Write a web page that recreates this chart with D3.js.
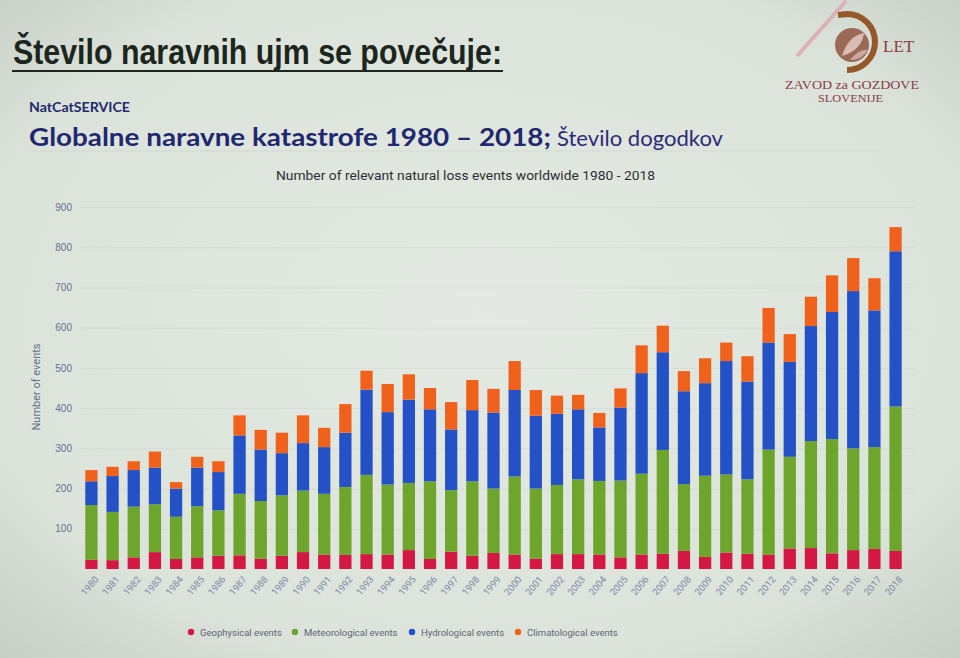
<!DOCTYPE html>
<html><head><meta charset="utf-8">
<script src="https://cdn.jsdelivr.net/npm/d3@7"></script>
<style>
html,body{margin:0;padding:0;background:#dfe5de;}
svg{display:block;}
</style></head>
<body>
<svg id="c" width="960" height="658"></svg>
<script>
const years = ["1980","1981","1982","1983","1984","1985","1986","1987","1988","1989","1990","1991","1992","1993","1994","1995","1996","1997","1998","1999","2000","2001","2002","2003","2004","2005","2006","2007","2008","2009","2010","2011","2012","2013","2014","2015","2016","2017","2018"];
const geophysical    = [23,22,29,42,25,29,33,34,26,33,42,36,35,37,36,47,25,43,33,40,36,26,37,37,36,29,36,38,45,30,41,38,36,51,52,39,47,50,45];
const meteorological = [136,120,126,119,105,127,113,153,143,150,153,151,169,197,174,167,193,153,185,160,194,174,172,186,183,191,201,258,166,202,194,185,261,228,266,284,253,253,359];
const hydrological   = [59,89,91,91,70,96,95,145,128,105,118,116,135,212,180,207,179,151,177,189,215,181,177,174,133,181,250,243,231,230,282,243,266,236,286,316,391,340,386];
const climatological = [28,23,22,40,16,27,27,50,49,51,69,48,71,47,70,63,53,68,75,59,72,64,45,36,36,48,69,66,50,62,46,63,86,69,73,91,82,80,60];
const seriesNames  = ["Geophysical events","Meteorological events","Hydrological events","Climatological events"];
const seriesColors = ["#d41843","#6ea52c","#2451c6","#f0621c"];
const yTicks = [100,200,300,400,500,600,700,800,900];

const svg = d3.select("#c");
const W = 960, H = 658;

// background vignette
const defs = svg.append("defs");
const rg = defs.append("radialGradient").attr("id","bg").attr("cx","50%").attr("cy","48%").attr("r","75%");
rg.append("stop").attr("offset","0%").attr("stop-color","#e4eae3");
rg.append("stop").attr("offset","70%").attr("stop-color","#dce3db");
rg.append("stop").attr("offset","100%").attr("stop-color","#c3cbc2");
svg.append("rect").attr("width",W).attr("height",H).attr("fill","url(#bg)");

// slide title
svg.append("text").attr("x",13).attr("y",64)
  .attr("font-family","'Liberation Sans Narrow','Arial Narrow','Liberation Sans',sans-serif")
  .attr("font-size",35).attr("font-weight","bold").attr("fill","#1c261d")
  .attr("textLength",489).attr("lengthAdjust","spacingAndGlyphs")
  .text("Število naravnih ujm se povečuje:");
svg.append("line").attr("x1",12).attr("x2",503).attr("y1",71).attr("y2",71)
  .attr("stroke","#1c261d").attr("stroke-width",2.2);

// logo
const logo = svg.append("g");
logo.append("path").attr("d","M797,56 L846,1").attr("fill","none").attr("stroke","#dcb0ba").attr("stroke-width",4);
logo.append("path").attr("d","M838,15 L847,14 A28,28 0 1,1 847,70").attr("fill","none").attr("stroke","#94582b").attr("stroke-width",6);
logo.append("circle").attr("cx",852).attr("cy",45).attr("r",17).attr("fill","#9a6a55");
logo.append("path").attr("d","M842,56 Q848,36 864,33 Q862,50 842,56 Z").attr("fill","#e3c9c4").attr("opacity",0.85);
logo.append("path").attr("d","M850,60 Q860,48 868,50 Q862,60 850,60 Z").attr("fill","#d9b6b4").attr("opacity",0.8);
logo.append("text").attr("x",883).attr("y",52).attr("font-family","'Liberation Serif',serif").attr("font-size",17).attr("fill","#883c42").text("LET");
logo.append("text").attr("x",785).attr("y",89).attr("font-family","'Liberation Serif',serif").attr("font-size",12)
  .attr("textLength",134).attr("lengthAdjust","spacingAndGlyphs").attr("fill","#883c48").text("ZAVOD za GOZDOVE");
logo.append("text").attr("x",818).attr("y",102).attr("font-family","'Liberation Serif',serif").attr("font-size",11)
  .attr("textLength",65).attr("lengthAdjust","spacingAndGlyphs").attr("fill","#883c48").text("SLOVENIJE");

// headings
svg.append("text").attr("x",29).attr("y",112).attr("font-family","Lato,'Open Sans','Liberation Sans',sans-serif")
  .attr("font-size",13).attr("font-weight","bold").attr("fill","#1f2a6e")
  .attr("textLength",101).attr("lengthAdjust","spacingAndGlyphs").text("NatCatSERVICE");
svg.append("text").attr("x",29).attr("y",146).attr("font-family","Lato,'Open Sans','Liberation Sans',sans-serif")
  .attr("font-size",24).attr("font-weight","bold").attr("fill","#1f2870")
  .attr("textLength",522).attr("lengthAdjust","spacingAndGlyphs").text("Globalne naravne katastrofe 1980 – 2018;");
svg.append("text").attr("x",557).attr("y",146).attr("font-family","Lato,'Open Sans','Liberation Sans',sans-serif")
  .attr("font-size",22).attr("fill","#2d2a78")
  .attr("textLength",166).attr("lengthAdjust","spacingAndGlyphs").text("Število dogodkov");
svg.append("line").attr("x1",30).attr("x2",880).attr("y1",151).attr("y2",151).attr("stroke","#000").attr("stroke-opacity",0.05);

// chart title
svg.append("text").attr("x",276).attr("y",180)
  .attr("font-family","Roboto,'Liberation Sans',sans-serif").attr("font-size",12).attr("fill","#2b2f33")
  .attr("textLength",379).attr("lengthAdjust","spacingAndGlyphs")
  .text("Number of relevant natural loss events worldwide 1980 - 2018");

// scales
const x = d3.scaleBand().domain(years).range([80,907]).paddingInner(0.42).paddingOuter(0.25);
const y = d3.scaleLinear().domain([0,900]).range([569,207]);

// grid
const grid = svg.append("g").attr("transform","translate(80,0)")
  .call(d3.axisLeft(y).tickValues(yTicks).tickSize(-835).tickFormat(""));
grid.select(".domain").remove();
grid.selectAll("line").attr("stroke","#000").attr("stroke-opacity",0.045);

// y axis labels
const ya = svg.append("g").attr("transform","translate(80,0)")
  .call(d3.axisLeft(y).tickValues(yTicks).tickSize(0).tickPadding(8).tickFormat(d3.format("d")));
ya.select(".domain").remove();
ya.selectAll("text").attr("font-family","'Liberation Sans',sans-serif").attr("font-size",10).attr("fill","#66728c");

svg.append("text").attr("transform","translate(40,387) rotate(-90)").attr("text-anchor","middle")
  .attr("font-family","Roboto,'Liberation Sans',sans-serif").attr("font-size",11).attr("fill","#66728c").text("Number of events");

// stacked bars
const table = years.map((yr,i)=>({year:yr, g:geophysical[i], m:meteorological[i], h:hydrological[i], c:climatological[i]}));
const stack = d3.stack().keys(["g","m","h","c"])(table);
svg.append("g").selectAll("g").data(stack).join("g")
  .attr("fill",(d,i)=>seriesColors[i])
  .selectAll("rect").data(d=>d).join("rect")
  .attr("x",d=>x(d.data.year)).attr("width",x.bandwidth())
  .attr("y",d=>y(d[1])).attr("height",d=>y(d[0])-y(d[1]));

// x axis labels
const xa = svg.append("g").attr("transform","translate(0,572)")
  .call(d3.axisBottom(x).tickSize(0).tickPadding(6));
xa.select(".domain").remove();
xa.selectAll("text").attr("font-family","Roboto,'Liberation Sans',sans-serif").attr("font-size",9.5).attr("fill","#7d89a6")
  .attr("text-anchor","end").attr("dx","-0.1em").attr("dy","0.5em").attr("transform","rotate(-50)");

// legend
const legX = [191,295,412,518];
const leg = svg.append("g").selectAll("g").data(seriesNames).join("g")
  .attr("transform",(d,i)=>`translate(${legX[i]},632)`);
leg.append("circle").attr("r",3.2).attr("fill",(d,i)=>seriesColors[i]);
leg.append("text").attr("x",9).attr("y",3.5).attr("font-family","Roboto,'Liberation Sans',sans-serif")
  .attr("font-size",9.5).attr("fill","#5d6673").text(d=>d);
</script>
</body></html>
